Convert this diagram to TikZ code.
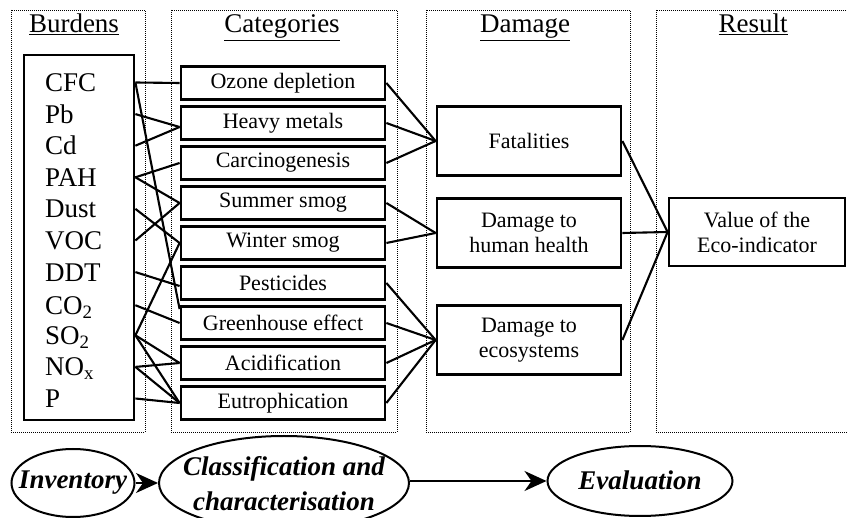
\documentclass[tikz,border=0pt]{standalone}
\usepackage{fontspec}
\setmainfont{Liberation Serif}
\usetikzlibrary{shapes.geometric,arrows.meta,calc}
\begin{document}
\begin{tikzpicture}[x=1pt,y=-1pt,
  panel/.style={draw,line width=0.9pt,dash pattern=on 1pt off 1pt},
  hdr/.style={anchor=base,inner sep=0pt,font=\fontsize{27}{30}\selectfont},
  bbox/.style={draw,line width=2.8pt,minimum width=110pt,minimum height=365pt,inner sep=0pt},
  blab/.style={anchor=west,inner sep=0pt,text height=18pt,text depth=0pt,font=\fontsize{27}{30}\selectfont},
  catbox/.style={draw,line width=2.8pt,minimum width=204pt,minimum height=33pt,inner sep=0pt,font=\fontsize{22}{25}\selectfont},
  dmgbox/.style={draw,line width=2.8pt,minimum width=184pt,minimum height=69pt,inner sep=0pt,align=center,font=\fontsize{22}{25}\selectfont},
  resbox/.style={draw,line width=2.8pt,minimum width=176pt,minimum height=68pt,inner sep=0pt,align=center,font=\fontsize{22}{25}\selectfont},
  conn/.style={line width=2.1pt},
  stage/.style={draw,ellipse,line width=2pt,inner sep=0pt},
  stagetxt/.style={inner sep=0pt,align=center,font=\fontsize{27}{35}\selectfont\bfseries\itshape},
  arr/.style={line width=2pt,-{Stealth[length=22pt,width=20pt,inset=7pt]}}
]
\useasboundingbox (0,0) rectangle (847,518);

% panels
\draw[panel] (11,10) rectangle (145,432);
\draw[panel] (171,10) rectangle (397,432);
\draw[panel] (426,10) rectangle (630,432);
\draw[panel] (656,10) rectangle (860,432);

% headers
\node[hdr] (hB) at (74,33) {\underline{Burdens}};
\node[hdr] (hC) at (282,33) {\underline{Categories}};
\node[hdr] (hD) at (525,33) {\underline{Damage}};
\node[hdr] (hR) at (753,33) {\underline{Result}};

% burdens
\node[bbox] (bb) at (79,237.5) {};
\node[blab] (CFC) at (45,82.5) {CFC};
\node[blab] (Pb)  at (45,114.1) {Pb};
\node[blab] (Cd)  at (45,145.7) {Cd};
\node[blab] (PAH) at (45,177.3) {PAH};
\node[blab] (Dust) at (45,208.9) {Dust};
\node[blab] (VOC) at (45,240.5) {VOC};
\node[blab] (DDT) at (45,272.1) {DDT};
\node[blab] (CO2) at (45,305.2) {CO\textsubscript{2}};
\node[blab] (SO2) at (45,335.3) {SO\textsubscript{2}};
\node[blab] (NOx) at (45,366.9) {NO\textsubscript{x}};
\node[blab] (P)   at (45,398.5) {P};

% categories
\node[catbox] (oz) at (283,83)  {Ozone depletion};
\node[catbox] (hm) at (283,123) {Heavy metals};
\node[catbox] (ca) at (283,163) {Carcinogenesis};
\node[catbox] (ss) at (283,203) {Summer smog};
\node[catbox] (ws) at (283,243) {Winter smog};
\node[catbox] (pe) at (283,283) {Pesticides};
\node[catbox] (gh) at (283,323) {Greenhouse effect};
\node[catbox] (ac) at (283,363) {Acidification};
\node[catbox] (eu) at (283,403) {Eutrophication};

% damage
\node[dmgbox] (fat) at (529,141) {Fatalities};
\node[dmgbox] (hh)  at (529,233) {Damage to\\human health};
\node[dmgbox] (eco) at (529,340) {Damage to\\ecosystems};

% result
\node[resbox] (res) at (757,232) {Value of the\\Eco-indicator};

% burden -> category
\draw[conn] (bb.east |- CFC) -- (oz.west);
\draw[conn] (bb.east |- CFC) -- ($(gh.north west)+(0,4)$);
\draw[conn] (bb.east |- Pb) -- ($(hm.west)+(0,4)$);
\draw[conn] (bb.east |- Cd) -- ($(hm.west)+(0,4)$);
\draw[conn] (bb.east |- PAH) -- (ca.west);
\draw[conn] (bb.east |- PAH) -- (ss.west);
\draw[conn] (bb.east |- Dust) -- (ws.west);
\draw[conn] (bb.east |- VOC) -- (ss.west);
\draw[conn] (bb.east |- DDT) -- ($(pe.west)+(0,3)$);
\draw[conn] (bb.east |- CO2) -- (gh.west);
\draw[conn] (bb.east |- SO2) -- (ws.west);
\draw[conn] (bb.east |- SO2) -- (ac.west);
\draw[conn] (bb.east |- SO2) -- (eu.west);
\draw[conn] (bb.east |- NOx) -- (ac.west);
\draw[conn] (bb.east |- NOx) -- (eu.west);
\draw[conn] (bb.east |- P) -- (eu.west);

% category -> damage
\draw[conn] (oz.east) -- (fat.west);
\draw[conn] (hm.east) -- (fat.west);
\draw[conn] (ca.east) -- (fat.west);
\draw[conn] (ss.east) -- (hh.west);
\draw[conn] (ws.east) -- (hh.west);
\draw[conn] (pe.east) -- (eco.west);
\draw[conn] (gh.east) -- (eco.west);
\draw[conn] (ac.east) -- (eco.west);
\draw[conn] (eu.east) -- (eco.west);

% damage -> result
\draw[conn] (fat.east) -- (res.west);
\draw[conn] (hh.east) -- (res.west);
\draw[conn] (eco.east) -- (res.west);

% stages
\node[stage,minimum width=123pt,minimum height=68pt] (inv) at (73,483) {};
\node[stagetxt] (invt) at (73,483) {Inventory};
\node[stage,minimum width=250pt,minimum height=94pt] (cls) at (284,483) {};
\node[stagetxt] (clst) at (284,484) {Classification and\\characterisation};
\node[stage,minimum width=185pt,minimum height=70pt] (eva) at (640,481) {};
\node[stagetxt] (evat) at (640,480) {Evaluation};
\draw[arr] (inv.east) -- (cls.west |- inv.east);
\draw[arr] (cls.east |- eva.west) -- (eva.west);
\end{tikzpicture}
\end{document}
